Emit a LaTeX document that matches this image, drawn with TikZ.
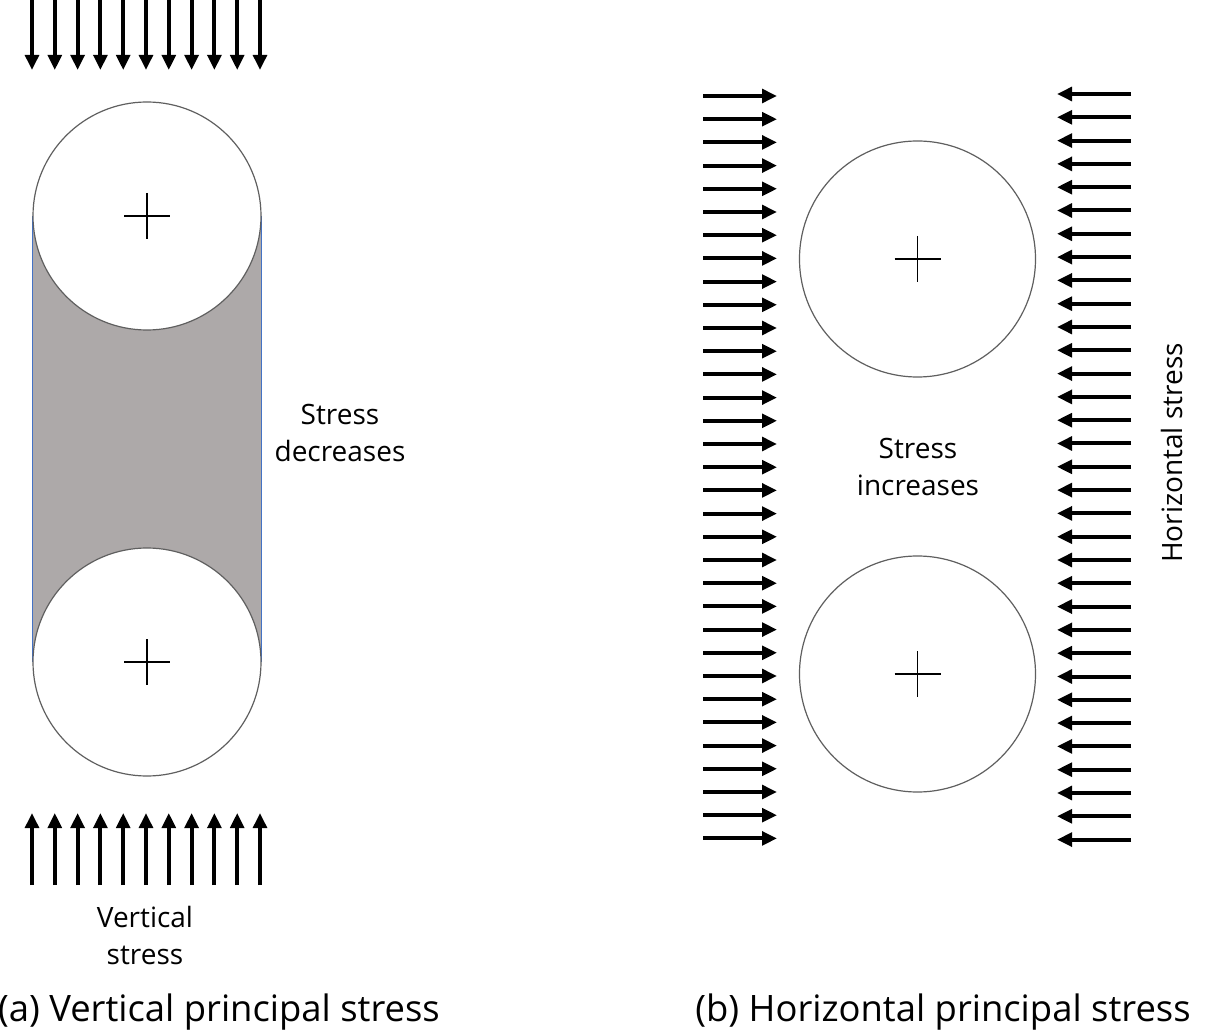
\documentclass[tikz,border=0pt]{standalone}
\usepackage{fontspec}
\setmainfont{Open Sans}
\usepackage{tikz}
\usetikzlibrary{arrows.meta, backgrounds}
\definecolor{ps-fill}{RGB}{173,169,169}
\definecolor{ps-edge}{RGB}{68,114,196}
\definecolor{ps-ring}{RGB}{95,95,95}
\tikzset{
  ps@hole/.style={circle, draw=ps-ring, line width=0.6pt, fill=white, inner sep=0pt},
  ps@load/.style={-{Triangle[length=7.5pt, width=6.8pt]}, line width=2pt, black},
  ps@cross/.style={line width=0.7pt, black},
  ps@lbl/.style={font=\fontsize{14}{18.5}\selectfont, align=center, inner sep=0pt},
  ps@cap/.style={font=\fontsize{18.2}{20}\selectfont, inner sep=0pt},
}
\begin{document}
\begin{tikzpicture}[x=0.5pt, y=-0.5pt]
  \useasboundingbox (0,0) rectangle (1206,1032);
  % (a) vertical principal stress
  \node[ps@hole, minimum size=114pt] (ta) at (147,216) {};
  \node[ps@hole, minimum size=114pt] (ba) at (147,662) {};
  \begin{scope}[on background layer]
    \fill[ps-fill] (ta.west) rectangle (ba.east);
    \draw[ps-edge, line width=0.7pt] (ta.west) -- (ba.west);
    \draw[ps-edge, line width=0.7pt] (ta.east) -- (ba.east);
  \end{scope}
  \foreach \i in {0,...,10} {
    \draw[ps@load] (32+22.8*\i,0) -- (32+22.8*\i,70);
    \draw[ps@load] (32+22.8*\i,885) -- (32+22.8*\i,813);
  }
  \node[ps@lbl] (dec) at (340,433) {Stress\\decreases};
  \node[ps@lbl] (vert) at (145,935) {Vertical\\stress};
  \node[ps@cap] (capa) at (219,1012) {(a) Vertical principal stress};
  % (b) horizontal principal stress
  \node[ps@hole, minimum size=118pt] (tb) at (917.5,259) {};
  \node[ps@hole, minimum size=118pt] (bb) at (917.5,674) {};
  \foreach \i in {0,...,32} {
    \draw[ps@load] (703,96+23.2*\i) -- (777,96+23.2*\i);
    \draw[ps@load] (1131,94+23.3*\i) -- (1057,94+23.3*\i);
  }
  \node[ps@lbl] (inc) at (918,467) {Stress\\increases};
  \node[ps@lbl, rotate=90] (hor) at (1172,453) {Horizontal stress};
  \node[ps@cap] (capb) at (943,1012) {(b) Horizontal principal stress};
  % centre marks
  \foreach \c in {ta,ba,tb,bb}
    \draw[ps@cross] (\c.center) ++(-23,0) -- ++(46,0)
                    (\c.center) ++(0,-23) -- ++(0,46);
\end{tikzpicture}
\end{document}
